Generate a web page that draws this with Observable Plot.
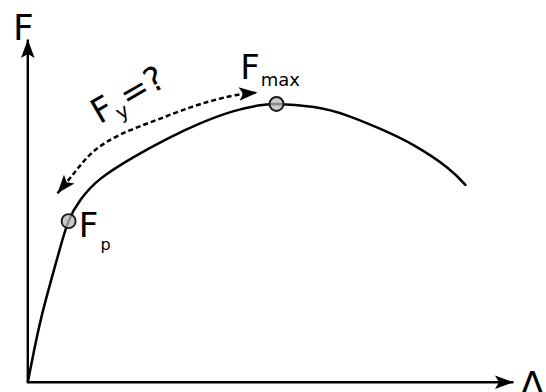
<!DOCTYPE html>
<html><head><meta charset="utf-8">
<style>html,body{margin:0;padding:0;background:#fff;overflow:hidden}</style>
<script src="https://cdn.jsdelivr.net/npm/d3@7"></script>
<script src="https://cdn.jsdelivr.net/npm/@observablehq/plot@0.6"></script>
</head><body><div id="chart"></div>
<script>
// Load–deformation curve (Δ and F in % of axis length)
const curveDelta = [0, 1.3, 2.8, 4.6, 6.5, 8.4, 10.9, 15.0, 21.8, 28.8, 35.6, 42.4, 47.3, 51.2, 58.9, 65.8, 72.6, 79.5, 86.4, 90.1];
const curveF     = [0, 9.3, 19.0, 28.7, 38.4, 47.0, 53.3, 59.4, 65.7, 71.1, 75.6, 79.1, 80.7, 81.2, 80.3, 77.8, 73.9, 69.1, 62.6, 57.6];

// Marked points
const pointNames = ["F_{p}", "F_{max}"];
const pointDelta = [8.4, 51.2];
const pointF     = [47.0, 81.2];

// Dashed double arrow (range where F_y lies)
const spanDelta = [6.1, 9.8, 13.5, 19.1, 26.3, 33.5, 39.7, 43.8, 47.3];
const spanF     = [55.1, 61.5, 67.3, 72.3, 76.4, 80.2, 82.8, 84.0, 84.5];
const spanLabel = "F_{y}=?";

// Axes
const axisEnd = 100;
const axisNames = ["F", "Δ"];

const curve = curveDelta.map((d, i) => ({delta: d, f: curveF[i]}));
const points = pointNames.map((n, i) => ({name: n, delta: pointDelta[i], f: pointF[i]}));
const span = spanDelta.map((d, i) => ({delta: d, f: spanF[i]}));

// filled, slightly notched arrowhead
const arrowHead = (orient) => (color) => {
  const m = d3.create("svg:marker")
    .attr("viewBox", "-20 -10 22 20")
    .attr("markerWidth", 22).attr("markerHeight", 20)
    .attr("markerUnits", "userSpaceOnUse")
    .attr("refX", 0).attr("refY", 0)
    .attr("orient", orient);
  m.append("path").attr("d", "M0,0L-18.5,-6.8L-14.5,0L-18.5,6.8Z")
    .attr("fill", "#000").attr("stroke", "none");
  return m.node();
};

const font = "DejaVu Sans";
const chart = Plot.plot({
  width: 546, height: 392,
  x: {domain: [0, axisEnd], range: [27.3, 513], axis: null},
  y: {domain: [0, axisEnd], range: [381.7, 39], axis: null},
  marks: [
    Plot.line([{delta: 0, f: 0}, {delta: 0, f: axisEnd}], {x: "delta", y: "f", stroke: "#000", strokeWidth: 2.4, strokeLinecap: "butt", markerEnd: arrowHead("auto")}),
    Plot.line([{delta: 0, f: 0}, {delta: axisEnd, f: 0}], {x: "delta", y: "f", stroke: "#000", strokeWidth: 2.4, strokeLinecap: "butt", markerEnd: arrowHead("auto")}),
    Plot.line(span, {x: "delta", y: "f", curve: "natural", stroke: "#000", strokeWidth: 2.5, strokeDasharray: "5,3", strokeLinecap: "butt",
      markerStart: arrowHead("auto-start-reverse"), markerEnd: arrowHead("auto")}),
    Plot.line(curve, {x: "delta", y: "f", curve: "natural", stroke: "#000", strokeWidth: 2.5}),
    Plot.dot(points, {x: "delta", y: "f", r: 7, fill: "#b8b8b8", fillOpacity: 0.75, stroke: "#1a1a1a", strokeWidth: 1.9}),
    Plot.text([{delta: 0, f: axisEnd, t: axisNames[0]}], {x: "delta", y: "f", text: "t", fontFamily: font, fontSize: 36, textAnchor: "start", lineAnchor: "bottom", dx: -14.8, dy: 0, fill: "#000"}),
    Plot.text([{delta: axisEnd, f: 0, t: axisNames[1]}], {x: "delta", y: "f", text: "t", fontFamily: font, fontSize: 36, textAnchor: "start", lineAnchor: "bottom", dx: 6.4, dy: 14.5, fill: "#000"}),
    Plot.text([points[0]], {x: "delta", y: "f", text: "name", fontFamily: font, fontSize: 34, textAnchor: "start", lineAnchor: "bottom", dx: 10.1, dy: 16, fill: "#000"}),
    Plot.text([points[1]], {x: "delta", y: "f", text: "name", fontFamily: font, fontSize: 34, textAnchor: "start", lineAnchor: "bottom", dx: -36.3, dy: -24.8, fill: "#000"}),
    Plot.text([{...span[3], t: spanLabel}], {x: "delta", y: "f", text: "t", fontFamily: font, fontSize: 34, textAnchor: "start", lineAnchor: "bottom", rotate: -30, dx: -21, dy: -10, fill: "#000"})
  ]
});

// subscripts as real tspans
const subStyle = {
  "F_{p}":   {size: 16, dx: 2.2, dy: 13},
  "F_{max}": {size: 18, dx: 1, dy: 6.7},
  "F_{y}=?": {size: 20, dx: 0.5, dy: 7}
};
d3.select(chart).selectAll("text").each(function () {
  const s = this.textContent;
  const m = /^(.*?)_\{(.*?)\}(.*)$/.exec(s);
  if (!m) return;
  const st = subStyle[s];
  const t = d3.select(this);
  t.text(null);
  t.append("tspan").text(m[1]);
  t.append("tspan").attr("font-size", st.size).attr("dx", st.dx).attr("dy", st.dy).text(m[2]);
  if (m[3]) t.append("tspan").attr("dy", -st.dy).attr("dx", 0.5).text(m[3]);
});

document.getElementById("chart").appendChild(chart);
</script>
</body></html>
